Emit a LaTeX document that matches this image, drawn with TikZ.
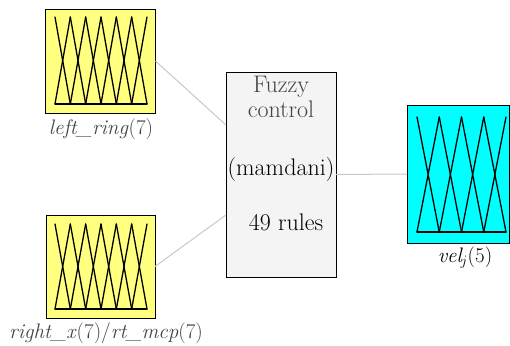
\documentclass[tikz,border=0pt]{standalone}
\usepackage{fontspec}
\definecolor{mfyellow}{HTML}{FFFF80}
\definecolor{mfcyan}{HTML}{00FFFF}
\definecolor{ctlfill}{HTML}{F4F4F4}
\definecolor{lblgray}{HTML}{444444}
\definecolor{conngray}{HTML}{C8C8C8}
% #1 x0, #2 x1, #3 ytop, #4 ybottom, #5 number of gaps (sets-1)
\newcommand{\drawmfs}[5]{%
  \draw[mf] (#1,#4) -- (#2,#4);
  \foreach \k in {1,...,#5} {
    \draw[mf] ({#1+(#2-#1)*(\k-1)/#5},#3) -- ({#1+(#2-#1)*\k/#5},#4);
    \draw[mf] ({#1+(#2-#1)*\k/#5},#3) -- ({#1+(#2-#1)*(\k-1)/#5},#4);
  }%
}
\begin{document}
\begin{tikzpicture}[x=1pt,y=-1pt,
  box/.style={draw=black, line width=0.9pt, inner sep=0pt, outer sep=0pt},
  conn/.style={draw=conngray, line width=1pt},
  mf/.style={line width=1.3pt, line cap=round},
  lbl/.style={font=\fontsize{21}{24}\selectfont, inner sep=0pt, anchor=base},
  ctltext/.style={font=\fontsize{24}{28}\selectfont, inner sep=0pt, anchor=base}]
\useasboundingbox (0,0) rectangle (510,345);
% boxes
\node[box, fill=mfyellow, minimum width=110pt, minimum height=104pt] (lr) at (100.5,61) {};
\node[box, fill=mfyellow, minimum width=109pt, minimum height=103pt] (rx) at (100.5,266.5) {};
\node[box, fill=ctlfill, minimum width=110pt, minimum height=205pt] (ctl) at (281,174.5) {};
\node[box, fill=mfcyan, minimum width=102pt, minimum height=138pt] (vel) at (458,174) {};
% membership functions
\drawmfs{55}{147}{17}{104}{6}
\drawmfs{55}{147}{224}{309}{6}
\drawmfs{417}{506}{117}{232}{4}
% connectors
\draw[conn] (lr.east) -- ([yshift=49.5pt]ctl.west);
\draw[conn] (rx.east) -- ([yshift=-40.5pt]ctl.west);
\draw[conn] (ctl.east) -- (vel.west);
% texts
\node[ctltext, text=lblgray] (t1) at (281,92) {Fuzzy};
\node[ctltext, text=lblgray] (t2) at (281,117) {control};
\node[ctltext] (t3) at (281,175) {(mamdani)};
\node[ctltext] (t4) at (286,230) {49 rules};
\node[lbl, text=lblgray] (l1) at (101,134) {\textit{left\_ring}(7)};
\node[lbl, text=lblgray] (l2) at (106,338) {\textit{right\_x}(7)/\textit{rt\_mcp}(7)};
\node[lbl] (l3) at (465,262) {\textit{vel}$_{\!j}$(5)};
\end{tikzpicture}
\end{document}
